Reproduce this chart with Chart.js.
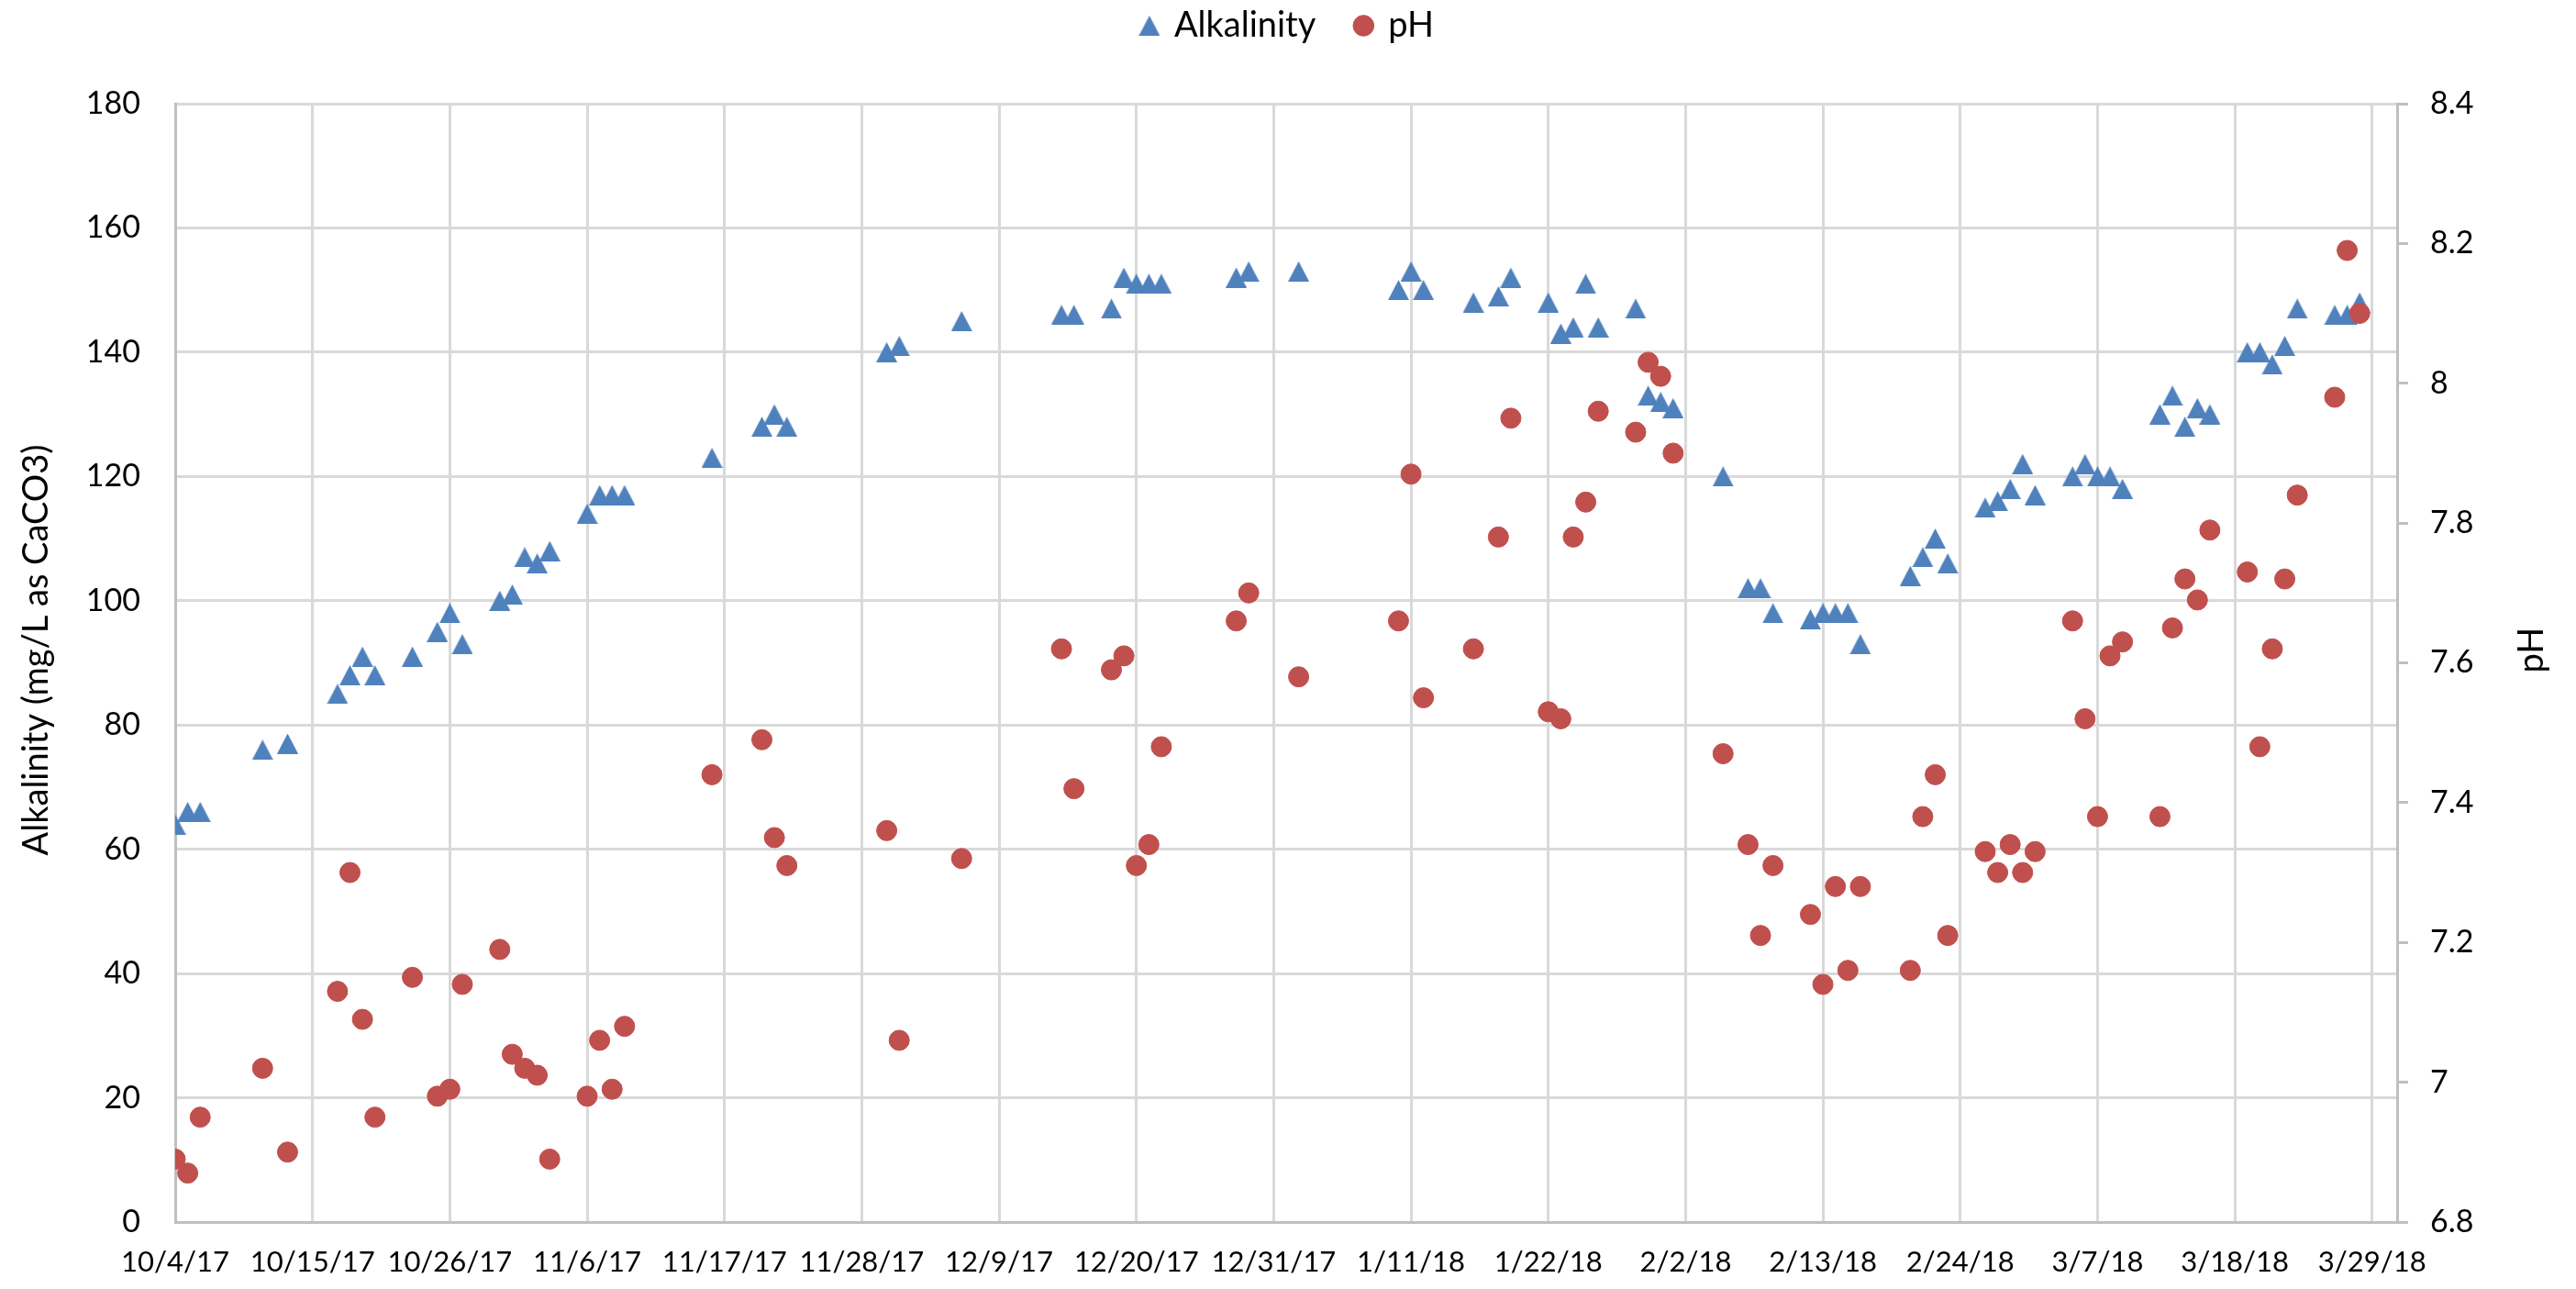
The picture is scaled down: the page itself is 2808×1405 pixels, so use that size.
<!DOCTYPE html>
<html>
<head>
<meta charset="utf-8">
<title>Alkalinity and pH</title>
<script src="https://cdn.jsdelivr.net/npm/chart.js@4.4.1/dist/chart.umd.min.js"></script>
<style>
  html, body { margin: 0; padding: 0; background: #fff; }
  #wrap { width: 2808px; height: 1405px; }
</style>
</head>
<body>
<div id="wrap"><canvas id="chart" width="2808" height="1405"></canvas></div>
<script>
// ==============================================================================
// 1. DATA
// ==============================================================================
const sampleDates = [
    '10/4/17', '10/5/17', '10/6/17', '10/11/17', '10/13/17', '10/17/17', '10/18/17', '10/19/17', '10/20/17', '10/23/17',
    '10/25/17', '10/26/17', '10/27/17', '10/30/17', '10/31/17', '11/1/17', '11/2/17', '11/3/17', '11/6/17', '11/7/17',
    '11/8/17', '11/9/17', '11/16/17', '11/20/17', '11/21/17', '11/22/17', '11/30/17', '12/1/17', '12/6/17', '12/14/17',
    '12/15/17', '12/18/17', '12/19/17', '12/20/17', '12/21/17', '12/22/17', '12/28/17', '12/29/17', '1/2/18', '1/10/18',
    '1/11/18', '1/12/18', '1/16/18', '1/18/18', '1/19/18', '1/22/18', '1/23/18', '1/24/18', '1/25/18', '1/26/18',
    '1/29/18', '1/30/18', '1/31/18', '2/1/18', '2/5/18', '2/7/18', '2/8/18', '2/9/18', '2/12/18', '2/13/18',
    '2/14/18', '2/15/18', '2/16/18', '2/20/18', '2/21/18', '2/22/18', '2/23/18', '2/26/18', '2/27/18', '2/28/18',
    '3/1/18', '3/2/18', '3/5/18', '3/6/18', '3/7/18', '3/8/18', '3/9/18', '3/12/18', '3/13/18', '3/14/18',
    '3/15/18', '3/16/18', '3/19/18', '3/20/18', '3/21/18', '3/22/18', '3/23/18', '3/26/18', '3/27/18', '3/28/18'
];

// mg/L as CaCO3
const alkalinity = [
    64, 66, 66, 76, 77, 85, 88, 91, 88, 91,
    95, 98, 93, 100, 101, 107, 106, 108, 114, 117,
    117, 117, 123, 128, 130, 128, 140, 141, 145, 146,
    146, 147, 152, 151, 151, 151, 152, 153, 153, 150,
    153, 150, 148, 149, 152, 148, 143, 144, 151, 144,
    147, 133, 132, 131, 120, 102, 102, 98, 97, 98,
    98, 98, 93, 104, 107, 110, 106, 115, 116, 118,
    122, 117, 120, 122, 120, 120, 118, 130, 133, 128,
    131, 130, 140, 140, 138, 141, 147, 146, 146, 148
];

const pH = [
    6.89, 6.87, 6.95, 7.02, 6.90, 7.13, 7.30, 7.09, 6.95, 7.15,
    6.98, 6.99, 7.14, 7.19, 7.04, 7.02, 7.01, 6.89, 6.98, 7.06,
    6.99, 7.08, 7.44, 7.49, 7.35, 7.31, 7.36, 7.06, 7.32, 7.62,
    7.42, 7.59, 7.61, 7.31, 7.34, 7.48, 7.66, 7.70, 7.58, 7.66,
    7.87, 7.55, 7.62, 7.78, 7.95, 7.53, 7.52, 7.78, 7.83, 7.96,
    7.93, 8.03, 8.01, 7.90, 7.47, 7.34, 7.21, 7.31, 7.24, 7.14,
    7.28, 7.16, 7.28, 7.16, 7.38, 7.44, 7.21, 7.33, 7.30, 7.34,
    7.30, 7.33, 7.66, 7.52, 7.38, 7.61, 7.63, 7.38, 7.65, 7.72,
    7.69, 7.79, 7.73, 7.48, 7.62, 7.72, 7.84, 7.98, 8.19, 8.10
];

// axis ranges and titles
const dateAxis = ['10/4/17', '3/31/18'];   // first tick, axis end
const dateTickDays = 11;
const alkAxis = [0, 180, 20];
const phAxis = [6.8, 8.4, 0.2];
const axisTitles = ['Alkalinity (mg/L as CaCO3)', 'pH'];

// ==============================================================================
// 2. HELPERS
// ==============================================================================
const DAY_MS = 86400000;
const FONT = 'Lato, "Open Sans", sans-serif';

function parseMDY(s) {
    const [m, d, y] = s.split('/').map(Number);
    return Date.UTC(2000 + y, m - 1, d);
}

const startMs = parseMDY(dateAxis[0]);
const dayOf = s => Math.round((parseMDY(s) - startMs) / DAY_MS);

function fmtDay(v) {
    const dt = new Date(startMs + v * DAY_MS);
    return (dt.getUTCMonth() + 1) + '/' + dt.getUTCDate() + '/' + String(dt.getUTCFullYear()).slice(2);
}

// Excel-style triangle, centred on its bounding box
function triangleMarker(w, h, color) {
    const c = document.createElement('canvas');
    c.width = w; c.height = h;
    const g = c.getContext('2d');
    g.fillStyle = color;
    g.beginPath();
    g.moveTo(w / 2, 0);
    g.lineTo(w, h);
    g.lineTo(0, h);
    g.closePath();
    g.fill();
    return c;
}

const alkPoints = sampleDates.map((s, i) => ({ x: dayOf(s), y: alkalinity[i] }));
const phPoints = sampleDates.map((s, i) => ({ x: dayOf(s), y: pH[i] }));

// Stretch the legend band so the plot starts where the original one does
const legendBand = {
    id: 'legendBand',
    beforeLayout(chart) {
        const lg = chart.legend;
        if (!lg || lg._banded) return;
        const fit = lg.fit;
        lg.fit = function () { fit.call(this); this.height = 148; };
        lg._banded = true;
    }
};

// Both axis titles read bottom-to-top, sitting a little above the plot middle
const sideTitles = {
    id: 'sideTitles',
    afterDraw(chart) {
        const { ctx, chartArea } = chart;
        const midY = (chartArea.top + chartArea.bottom) / 2 - 14;
        ctx.save();
        ctx.font = '38px ' + FONT;
        ctx.fillStyle = '#000';
        ctx.textAlign = 'center';
        ctx.textBaseline = 'middle';
        [[40, axisTitles[0]], [2760, axisTitles[1]]].forEach(([x, text]) => {
            ctx.save();
            ctx.translate(x, midY);
            ctx.rotate(-Math.PI / 2);
            ctx.fillText(text, 0, 0);
            ctx.restore();
        });
        ctx.restore();
    }
};

// ==============================================================================
// 3. CHART
// ==============================================================================
const gridColor = '#D9D9D9';
const axisColor = '#BFBFBF';
const blue = '#4F81BD';
const red = '#C0504D';

new Chart(document.getElementById('chart'), {
    type: 'scatter',
    data: {
        datasets: [{
            label: 'Alkalinity',
            data: alkPoints,
            yAxisID: 'y',
            pointStyle: triangleMarker(23, 22, blue),
            pointRadius: 12,
            backgroundColor: blue,
            borderColor: blue,
            borderWidth: 0,
            order: 1
        }, {
            label: 'pH',
            data: phPoints,
            yAxisID: 'y1',
            pointStyle: 'circle',
            pointRadius: 11,
            backgroundColor: red,
            borderColor: red,
            borderWidth: 1,
            order: 0
        }]
    },
    options: {
        responsive: false,
        animation: false,
        devicePixelRatio: 1,
        events: [],
        layout: { padding: { top: -35, left: 0, right: 0, bottom: 0 } },
        plugins: {
            legend: {
                position: 'top',
                align: 'center',
                labels: {
                    usePointStyle: true,
                    boxWidth: 16,
                    boxHeight: 16,
                    padding: 44,
                    color: '#000',
                    font: { family: FONT, size: 38 },
                    sort: (a, b) => a.datasetIndex - b.datasetIndex
                }
            },
            tooltip: { enabled: false }
        },
        scales: {
            x: {
                type: 'linear',
                min: 0,
                max: dayOf(dateAxis[1]),
                afterFit: s => { s.height = 73; },
                ticks: {
                    stepSize: dateTickDays,
                    includeBounds: false,
                    autoSkip: false,
                    maxRotation: 0,
                    padding: 25,
                    color: '#000',
                    font: { family: FONT, size: 31 },
                    callback: v => fmtDay(v)
                },
                grid: { color: gridColor, lineWidth: 3, drawTicks: false },
                border: { color: axisColor, width: 3 }
            },
            y: {
                position: 'left',
                min: alkAxis[0],
                max: alkAxis[1],
                afterFit: s => { s.width = 191; },
                ticks: {
                    stepSize: alkAxis[2],
                    padding: 38,
                    color: '#000',
                    font: { family: FONT, size: 34 }
                },
                grid: { color: gridColor, lineWidth: 3, drawTicks: false },
                border: { color: axisColor, width: 3 },
                title: { display: false }
            },
            y1: {
                position: 'right',
                min: phAxis[0],
                max: phAxis[1],
                afterFit: s => { s.width = 195; },
                ticks: {
                    stepSize: phAxis[2],
                    padding: 24,
                    color: '#000',
                    font: { family: FONT, size: 34 },
                    callback: v => String(Math.round(v * 10) / 10)
                },
                grid: {
                    drawOnChartArea: false,
                    drawTicks: true,
                    tickLength: 12,
                    tickColor: axisColor,
                    tickWidth: 3
                },
                border: { color: axisColor, width: 3 },
                title: { display: false }
            }
        }
    },
    plugins: [legendBand, sideTitles]
});
</script>
</body>
</html>
